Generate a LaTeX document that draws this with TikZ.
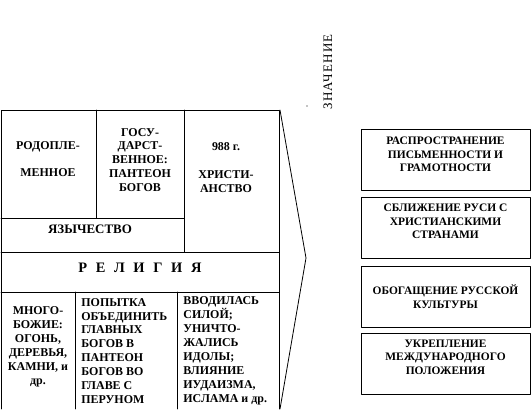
\documentclass[tikz,border=0pt]{standalone}
\usepackage{fontspec}
\setmainfont{Liberation Serif}
\tikzset{
  cell/.style={font=\bfseries\fontsize{12}{14}\selectfont, inner sep=0pt, align=center},
  leftcell/.style={cell, align=left},
  valbox/.style={draw, line width=0.8bp, minimum width=169bp, minimum height=61bp, inner sep=0pt},
  valtext/.style={cell, font=\bfseries\fontsize{11.5}{14}\selectfont, anchor=north}
}
\begin{document}
\begin{tikzpicture}[x=1bp, y=-1bp, line width=0.8bp, line join=round, line cap=round]
      \useasboundingbox (0,0) rectangle (531,409);
      % frame of the religion table
      \coordinate (TL) at (1,110);
      \coordinate (TR) at (279,110);
      \coordinate (BL) at (1,409);
      \coordinate (BR) at (279,409);
      \coordinate (Tip) at (306,258);

      \draw (BL) -- (TL) -- (TR) -- (BR);
      \draw (96,110) -- (96,218);
      \draw (184,110) -- (184,252);
      \draw (1,218) -- (184,218);
      \draw (1,252) -- (279,252);
      \draw (1,292) -- (279,292);
      \draw (75,292) -- (75,409);
      \draw (177,292) -- (177,409);

      % bracket
      \draw ([xshift=1bp]TR) -- (Tip) -- ([xshift=1bp]BR);
      \fill (307,106) circle (0.6bp);

      % cells
      \node[cell] (rodo) at (48,159) {РОДОПЛЕ-\\[13bp]МЕННОЕ};
      \node[cell] (gos) at (140,160) {ГОСУ-\\ДАРСТ-\\ВЕННОЕ:\\ПАНТЕОН\\БОГОВ};
      \node[cell] (hrist) at (226,168) {988 г.\\[14bp]ХРИСТИ-\\АНСТВО};
      \node[cell, font=\bfseries\fontsize{13}{14}\selectfont] (yaz) at (90,229) {ЯЗЫЧЕСТВО};
      \node[cell, font=\bfseries\fontsize{14.5}{16}\selectfont\addfontfeature{LetterSpace=60}] (rel) at (140,268) {РЕЛИГИЯ};
      \node[cell] (many) at (38,347) {МНОГО-\\БОЖИЕ:\\ОГОНЬ,\\ДЕРЕВЬЯ,\\КАМНИ, и\\др.};
      \node[leftcell, anchor=west] (perun) at (81,351) {ПОПЫТКА\\ОБЪЕДИНИТЬ\\ГЛАВНЫХ\\БОГОВ В\\ПАНТЕОН\\БОГОВ ВО\\ГЛАВЕ С\\ПЕРУНОМ};
      \node[leftcell, anchor=west] (force) at (183,351) {ВВОДИЛАСЬ\\СИЛОЙ;\\УНИЧТО-\\ЖАЛИСЬ\\ИДОЛЫ;\\ВЛИЯНИЕ\\ИУДАИЗМА,\\ИСЛАМА и др.};

      % significance
      \node[rotate=90, inner sep=0pt, font=\fontsize{13}{14}\selectfont\addfontfeature{LetterSpace=10}] (znach) at (328,72) {ЗНАЧЕНИЕ};

      \node[valbox] (v1) at (445.5,160) {};
      \node[valbox] (v2) at (445.5,228) {};
      \node[valbox] (v3) at (445.5,297) {};
      \node[valbox] (v4) at (445.5,364) {};

      \node[valtext] at ([yshift=-7bp]v1.north) {РАСПРОСТРАНЕНИЕ\\ПИСЬМЕННОСТИ И\\ГРАМОТНОСТИ};
      \node[valtext] at ([yshift=-6bp]v2.north) {СБЛИЖЕНИЕ РУСИ С\\ХРИСТИАНСКИМИ\\СТРАНАМИ};
      \node[valtext] at ([yshift=-18bp]v3.north) {ОБОГАЩЕНИЕ РУССКОЙ\\КУЛЬТУРЫ};
      \node[valtext] at ([yshift=-6bp]v4.north) {УКРЕПЛЕНИЕ\\МЕЖДУНАРОДНОГО\\ПОЛОЖЕНИЯ};
\end{tikzpicture}
\end{document}
